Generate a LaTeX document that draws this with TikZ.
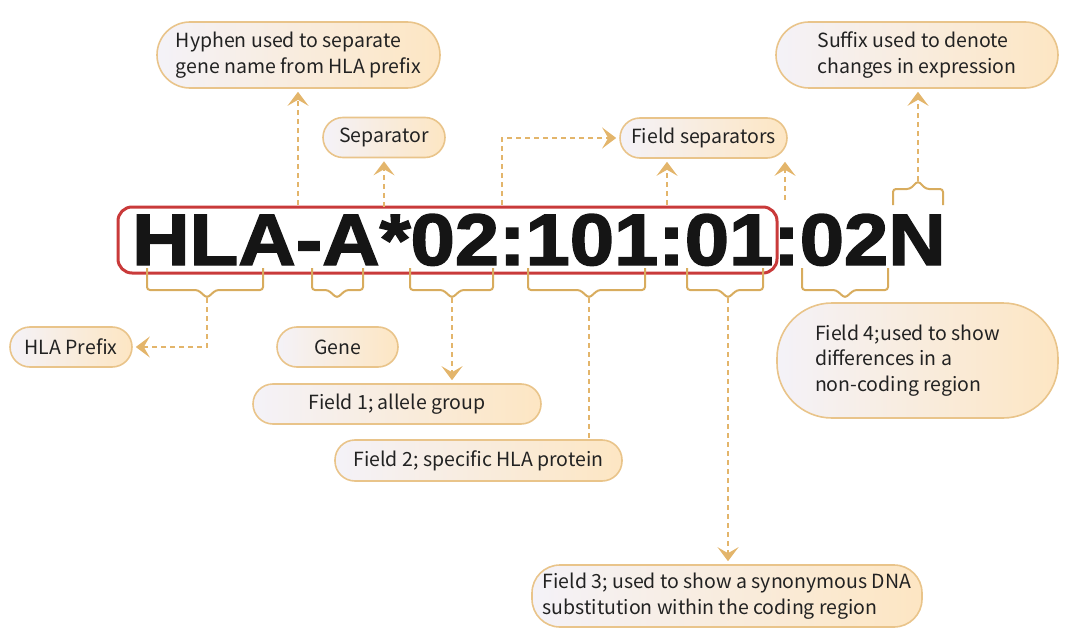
\documentclass[tikz,border=0pt]{standalone}
\usepackage{fontspec}
\usepackage{graphicx}
\setmainfont{Noto Sans CJK SC}
\newfontfamily\heavyfont{Liberation Sans Bold}[FakeBold=2]
\usetikzlibrary{arrows.meta}
\definecolor{boxc}{HTML}{E9C48A}
\definecolor{fillL}{HTML}{F4F2F8}
\definecolor{fillR}{HTML}{FDE6C3}
\definecolor{dashc}{HTML}{E3B56B}
\definecolor{bracec}{HTML}{D8AC5E}
\definecolor{redc}{HTML}{C93A3A}
\definecolor{txt}{HTML}{222222}
\definecolor{bigtxt}{HTML}{151515}
\tikzset{
  box/.style={draw=boxc, line width=1.6pt, left color=fillL, right color=fillR,
    text=txt, inner sep=0pt, align=left, font=\fontsize{19.5}{25.5}\selectfont},
  pill/.style={box, rounded corners=20pt, minimum height=40pt},
  dl/.style={draw=dashc, line width=2.4pt, dash pattern=on 5pt off 4pt},
  tip/.style={-{Stealth[length=14pt,width=21pt,inset=6pt]}, shorten >=3pt},
  bracepath/.style={draw=bracec, line width=2pt, rounded corners=3pt},
  redbox/.style={draw=redc, line width=3pt, rounded corners=14pt},
  bigtext/.style={font=\fontsize{73}{73}\heavyfont, text=bigtxt, inner sep=0pt}
}
\newcommand\bracedn[3]{%
  \draw[bracepath] (#1,268) -- (#1,290) -- ({#3-9},290) -- (#3,298) -- ({#3+9},290) -- (#2,290) -- (#2,268);}
\begin{document}
\begin{tikzpicture}[x=1pt,y=-1pt]
\useasboundingbox (0,0) rectangle (1080,634);
% main code
\node[bigtext, anchor=base west] (code) at (132,265) {\scalebox{1.09}[1]{HLA-A*02:101:01:02N}};
\draw[redbox] (118,207) rectangle (777,273);
% braces below
\bracedn{147}{263}{207}
\bracedn{312}{363}{337}
\bracedn{410}{493}{452}
\bracedn{528}{645}{589}
\bracedn{687}{763}{728}
\bracedn{802}{888}{845}
% brace above N
\draw[bracepath] (893,205) -- (893,189) -- (910,189) -- (918,181) -- (926,189) -- (943,189) -- (943,205);
% coordinates
\coordinate (hyph0) at (298,205);
\coordinate (sep0) at (384,207);
\coordinate (fs1) at (502,205);
\coordinate (fs2) at (667,205);
\coordinate (fs3) at (785,200);
\coordinate (suf0) at (918,181);
\coordinate (b1tip) at (207,298);
\coordinate (b3tip) at (452,298);
\coordinate (b4tip) at (589,298);
\coordinate (b5tip) at (728,298);
% boxes
\node[box, rounded corners=33pt, minimum width=283pt, minimum height=66pt] (hyph) at (298.5,55)
  {Hyphen used to separate\\gene name from HLA prefix};
\node[pill, minimum width=122pt] (sep) at (384,137.5) {Separator};
\node[pill, minimum width=167pt] (fsep) at (703.5,138) {Field separators};
\node[box, rounded corners=33pt, minimum width=282pt, minimum height=66pt] (suffix) at (917,55)
  {Suffix used to denote\\changes in expression};
\node[pill, minimum width=122pt] (prefix) at (71,347) {HLA Prefix};
\node[pill, minimum width=121pt] (gene) at (337.5,347) {Gene};
\node[pill, minimum width=288pt] (f1) at (397,404) {Field 1; allele group};
\node[pill, minimum width=287pt, minimum height=41pt] (f2) at (478.5,460.5) {Field 2; specific HLA protein};
\node[box, rounded corners=28pt, minimum width=390pt, minimum height=62pt] (f3) at (727,596)
  {Field 3; used to show a synonymous DNA\\substitution within the coding region};
\node[box, align=flush left, rounded corners=55pt, text width=205pt, inner xsep=38pt, minimum height=115pt] (f4) at (917.5,360.5)
  {Field 4;used to show\\differences in a\\non-coding region};
% connectors
\draw[dl, tip] (hyph0) -- (hyph0 |- hyph.south);
\draw[dl, tip] (sep0) -- (sep0 |- sep.south);
\draw[dl, tip] (fs1) |- (fsep.west);
\draw[dl, tip] (fs2) -- (fs2 |- fsep.south);
\draw[dl, tip] (fs3) -- (fs3 |- fsep.south);
\draw[dl, tip] (suf0) -- (suf0 |- suffix.south);
\draw[dl, tip] (b1tip) |- (prefix.east);
\draw[dl, tip] (b3tip) -- (b3tip |- f1.north);
\draw[dl] (b4tip) -- (b4tip |- f2.north);
\draw[dl, tip] (b5tip) -- (b5tip |- f3.north);
\end{tikzpicture}
\end{document}
